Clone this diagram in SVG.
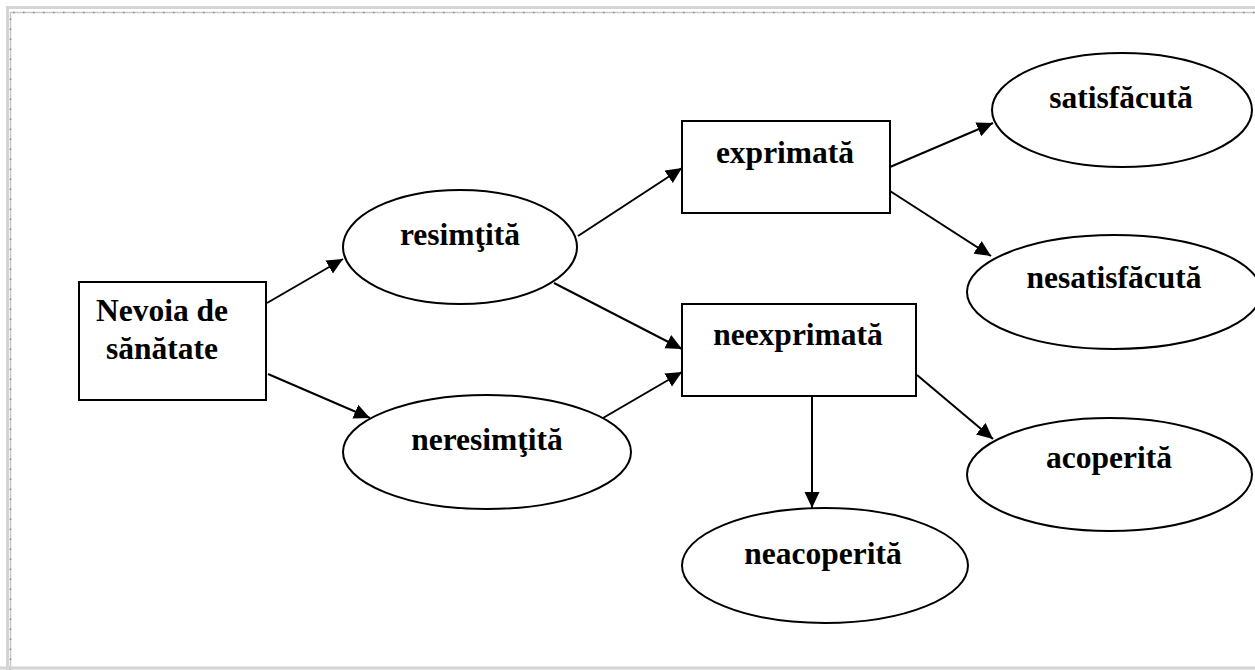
<svg xmlns="http://www.w3.org/2000/svg" width="1255" height="670" viewBox="0 0 1255 670">
  <style>
    .shape { fill: #ffffff; stroke: #000000; stroke-width: 2; }
    .label { font-family: "Liberation Serif", "Times New Roman", serif; font-weight: bold; font-size: 31.5px; fill: #000000; text-anchor: middle; }
    .edge { fill: none; stroke: #000000; stroke-width: 2; marker-end: url(#arrow); }
  </style>
  <defs>
    <marker id="arrow" markerUnits="userSpaceOnUse" markerWidth="17" markerHeight="16" refX="16" refY="8" orient="auto">
      <path d="M0,0.5 L16,8 L0,15.5 z" fill="#000000"/>
    </marker>
  </defs>

  <rect x="0" y="0" width="1255" height="670" fill="#ffffff"/>

  <!-- page frame -->
  <g id="frame">
    <path d="M7.5,670 V7.5 H1255" fill="none" stroke="#d4d4d4" stroke-width="3"/>
    <path d="M10.5,670 V12.5 H1255" fill="none" stroke="#c8c8c8" stroke-width="1.5"/>
    <path d="M10.5,670 V12.5 H1255" fill="none" stroke="#888888" stroke-width="1.5" stroke-dasharray="1.5,8.5"/>
    <line x1="0" y1="668" x2="1255" y2="668" stroke="#d4d4d4" stroke-width="3"/>
  </g>

  <!-- connectors -->
  <g id="connectors">
    <line class="edge" x1="267" y1="303" x2="343" y2="259"/>
    <line class="edge" x1="268" y1="374" x2="370" y2="418"/>
    <line class="edge" x1="578" y1="236" x2="682" y2="168"/>
    <line class="edge" x1="554" y1="283" x2="682" y2="349"/>
    <line class="edge" x1="603" y1="418" x2="682" y2="372"/>
    <line class="edge" x1="890" y1="167" x2="993" y2="123"/>
    <line class="edge" x1="890" y1="191" x2="991" y2="256"/>
    <line class="edge" x1="917" y1="375" x2="993" y2="439"/>
    <line class="edge" x1="812" y1="396" x2="812" y2="508"/>
  </g>

  <!-- nodes -->
  <g id="node-nevoia">
    <rect class="shape" x="79" y="282" width="187" height="118"/>
    <text class="label" x="162" y="321">Nevoia de</text>
    <text class="label" x="162" y="359">sănătate</text>
  </g>

  <g id="node-resimtita">
    <ellipse class="shape" cx="460" cy="247" rx="117" ry="57"/>
    <text class="label" x="460" y="245">resimţită</text>
  </g>

  <g id="node-neresimtita">
    <ellipse class="shape" cx="487" cy="452" rx="144" ry="57"/>
    <text class="label" x="487" y="450">neresimţită</text>
  </g>

  <g id="node-exprimata">
    <rect class="shape" x="682" y="121" width="208" height="92"/>
    <text class="label" x="785" y="163">exprimată</text>
  </g>

  <g id="node-neexprimata">
    <rect class="shape" x="682" y="304" width="234" height="92"/>
    <text class="label" x="798" y="345">neexprimată</text>
  </g>

  <g id="node-satisfacuta">
    <ellipse class="shape" cx="1122" cy="110" rx="130" ry="57"/>
    <text class="label" x="1121" y="108">satisfăcută</text>
  </g>

  <g id="node-nesatisfacuta">
    <ellipse class="shape" cx="1114" cy="292" rx="147" ry="57"/>
    <text class="label" x="1114" y="288">nesatisfăcută</text>
  </g>

  <g id="node-acoperita">
    <ellipse class="shape" cx="1109.5" cy="474.5" rx="142.5" ry="56.5"/>
    <text class="label" x="1109" y="468">acoperită</text>
  </g>

  <g id="node-neacoperita">
    <ellipse class="shape" cx="825" cy="565.5" rx="143" ry="57.5"/>
    <text class="label" x="823" y="564">neacoperită</text>
  </g>
</svg>
